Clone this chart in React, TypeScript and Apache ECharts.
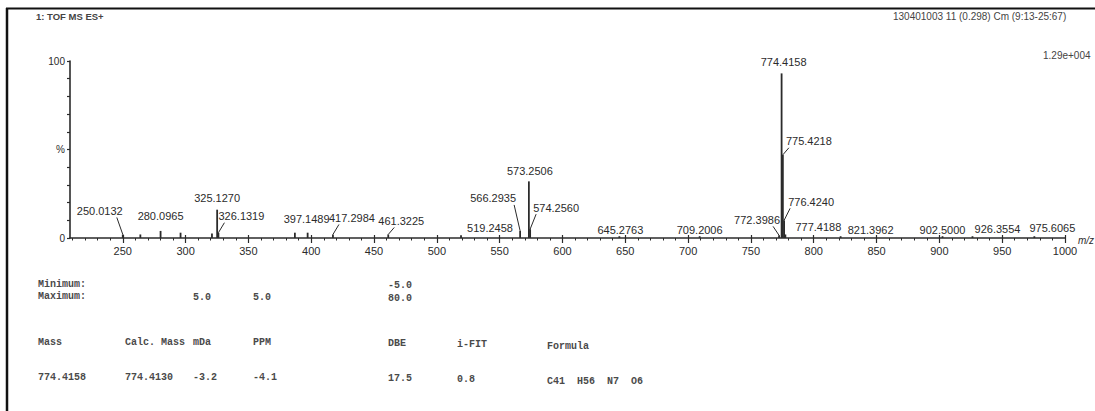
import React, { useEffect, useRef } from "react";
import * as echarts from "echarts";

// Labelled centroid peaks: m/z and relative intensity (%)
const peakMz = [
  250.0132, 280.0965, 325.127, 326.1319, 397.1489, 417.2984, 461.3225, 519.2458,
  566.2935, 573.2506, 574.256, 645.2763, 709.2006, 772.3986, 774.4158, 775.4218,
  776.424, 777.4188, 821.3962, 902.5, 926.3554, 975.6065,
];
const peakPct = [
  2, 4, 16, 3, 3, 2, 2, 1.5,
  4, 32, 5, 1, 1, 1.5, 93, 47,
  10, 2, 1, 1, 1, 1,
];

// Small unlabelled peaks near the baseline
const minorPeakMz = [264, 296, 321, 387];
const minorPeakPct = [2, 3, 2.5, 3];

// Axis ticks
const mzTicks = [250, 300, 350, 400, 450, 500, 550, 600, 650, 700, 750, 800, 850, 900, 950, 1000];
const mzMinorTicks: number[] = [];
for (let v = 210; v <= 1000; v += 10) mzMinorTicks.push(v);
const pctTicks = [0, 10, 20, 30, 40, 50, 60, 70, 80, 90, 100];
const pctLabels = [0, 50, 100];

// Elemental composition report
const limitRowLabels = ["Minimum:", "Maximum:"];
const tableHeaders = ["Mass", "Calc. Mass", "mDa", "PPM", "DBE", "i-FIT", "Formula"];
const tableRow = ["774.4158", "774.4130", "-3.2", "-4.1", "17.5", "0.8", "C41  H56  N7  O6"];
const limitMin = ["", "", "", "", "-5.0", "", ""];
const limitMax = ["", "", "5.0", "5.0", "80.0", "", ""];

// Layout helpers (pixel nudges for peak annotations, column x positions)
const labelNudge: [number, number][] = [
  [-23, -18], [0, -9], [0, -6], [23, -11], [-1, -8], [19, -11], [13, -8], [29, -2],
  [-27, -27], [1, -5], [26, -16], [1, -1], [0, -1], [-22, -10], [2, -6], [26, -8],
  [27, -13], [33, -2], [30, -1], [0, -1], [25, -2], [18, -3],
];
const columnX = [38, 125, 193, 253, 388, 457, 547];
const columnDy = [0, 0, 0, 0, 1, 2, 4];

const INK = "#2b2b2b";
const PEAK_FONT = '11px "Liberation Sans", Arial, sans-serif';
const MONO_FONT = 'bold 10px "Liberation Mono", "DejaVu Sans Mono", monospace';

function peakRenderer(withLabels: boolean) {
  return (params: any, api: any) => {
    const i = params.dataIndex;
    const mz = api.value(0);
    const pct = api.value(1);
    const b = api.coord([mz, 0]);
    const t = api.coord([mz, pct]);
    const children: any[] = [
      {
        type: "line",
        shape: { x1: b[0], y1: b[1], x2: t[0], y2: t[1] },
        style: { stroke: INK, lineWidth: 1.8 },
      },
    ];
    if (withLabels) {
      const [dx, dy] = labelNudge[i];
      const lx = t[0] + dx;
      const ly = t[1] + dy;
      children.push({
        type: "text",
        x: lx,
        y: ly,
        style: {
          text: peakMz[i].toFixed(4),
          fill: INK,
          font: PEAK_FONT,
          align: "center",
          verticalAlign: "bottom",
        },
      });
      if (Math.abs(dx) > 8 && ly + 1 < t[1] - 2) {
        children.push({
          type: "line",
          shape: { x1: t[0], y1: t[1], x2: t[0] + Math.sign(dx) * 6, y2: ly + 1 },
          style: { stroke: INK, lineWidth: 1 },
        });
      }
    }
    return { type: "group", children };
  };
}

export default function App() {
  const ref = useRef<HTMLDivElement>(null);

  useEffect(() => {
    if (!ref.current) return;
    const chart = echarts.init(ref.current, null, { renderer: "svg" });

    const graphics: any[] = [
      // page frame
      { type: "line", shape: { x1: 6, y1: 8.5, x2: 1095, y2: 8.5 }, style: { stroke: "#111", lineWidth: 2 } },
      { type: "line", shape: { x1: 7, y1: 8, x2: 7, y2: 411 }, style: { stroke: "#111", lineWidth: 2.5 } },
      {
        type: "text", x: 36, y: 16,
        style: { text: "1: TOF MS ES+", font: 'bold 9.5px "Liberation Sans", Arial, sans-serif', fill: "#444", verticalAlign: "middle" },
      },
      {
        type: "text", x: 893, y: 16,
        style: { text: "130401003 11 (0.298) Cm (9:13-25:67)", font: '10px "Liberation Sans", Arial, sans-serif', fill: "#444", verticalAlign: "middle" },
      },
      {
        type: "text", x: 1043, y: 55,
        style: { text: "1.29e+004", font: '10px "Liberation Sans", Arial, sans-serif', fill: "#444", verticalAlign: "middle" },
      },
      {
        type: "text", x: 1078, y: 240,
        style: { text: "m/z", font: 'italic 10px "Liberation Sans", Arial, sans-serif', fill: INK, verticalAlign: "middle" },
      },
    ];

    const textAt = (text: string, x: number, y: number) => ({
      type: "text", x, y,
      style: { text, font: MONO_FONT, fill: "#4a4a4a", verticalAlign: "middle" },
    });

    graphics.push(textAt(limitRowLabels[0], 38, 284));
    graphics.push(textAt(limitRowLabels[1], 38, 296));
    tableHeaders.forEach((h, c) => {
      if (limitMin[c]) graphics.push(textAt(limitMin[c], columnX[c], 284 + columnDy[c]));
      if (limitMax[c]) graphics.push(textAt(limitMax[c], columnX[c], 297 + columnDy[c]));
      graphics.push(textAt(h, columnX[c], 342 + columnDy[c]));
      graphics.push(textAt(tableRow[c], columnX[c], 377 + columnDy[c]));
    });

    chart.setOption({
      animation: false,
      backgroundColor: "#ffffff",
      grid: { left: 70, right: 30, top: 61, bottom: 173, containLabel: false },
      xAxis: [
        {
          type: "value", min: 208, max: 1000, position: "bottom",
          axisLine: { show: true, lineStyle: { color: INK, width: 1.6 } },
          axisTick: { show: true, customValues: mzTicks, length: 5, lineStyle: { color: INK, width: 1.2 } },
          axisLabel: {
            customValues: mzTicks, fontSize: 11, color: INK, margin: 7,
            fontFamily: '"Liberation Sans", Arial, sans-serif',
            formatter: (v: number) => String(v),
          },
          splitLine: { show: false },
        },
        {
          type: "value", min: 208, max: 1000, position: "bottom",
          axisLine: { show: false },
          axisTick: { show: true, customValues: mzMinorTicks, length: 2.5, lineStyle: { color: INK, width: 1 } },
          axisLabel: { show: false },
          splitLine: { show: false },
        },
        {
          type: "value", min: 208, max: 1000, position: "bottom",
          axisLine: { show: false },
          axisTick: { show: true, inside: true, customValues: mzTicks, length: 3, lineStyle: { color: INK, width: 1.2 } },
          axisLabel: { show: false },
          splitLine: { show: false },
        },
      ],
      yAxis: {
        type: "value", min: 0, max: 100,
        axisLine: { show: true, lineStyle: { color: INK, width: 1.6 } },
        axisTick: { show: true, customValues: pctTicks, length: 3, lineStyle: { color: INK, width: 1.2 } },
        axisLabel: {
          customValues: pctLabels, fontSize: 10, color: INK, margin: 5,
          fontFamily: '"Liberation Sans", Arial, sans-serif',
          formatter: (v: number) => (v === 50 ? "%" : String(v)),
        },
        splitLine: { show: false },
      },
      graphic: graphics,
      series: [
        {
          type: "custom",
          name: "peaks",
          clip: false,
          renderItem: peakRenderer(true),
          data: peakMz.map((m, i) => [m, peakPct[i]]),
          encode: { x: 0, y: 1 },
          silent: true,
        },
        {
          type: "custom",
          name: "baseline peaks",
          clip: false,
          renderItem: peakRenderer(false),
          data: minorPeakMz.map((m, i) => [m, minorPeakPct[i]]),
          encode: { x: 0, y: 1 },
          silent: true,
        },
      ],
    });

    return () => chart.dispose();
  }, []);

  return <div ref={ref} style={{ width: 1095, height: 411, position: "absolute", left: 0, top: 0 }} />;
}
